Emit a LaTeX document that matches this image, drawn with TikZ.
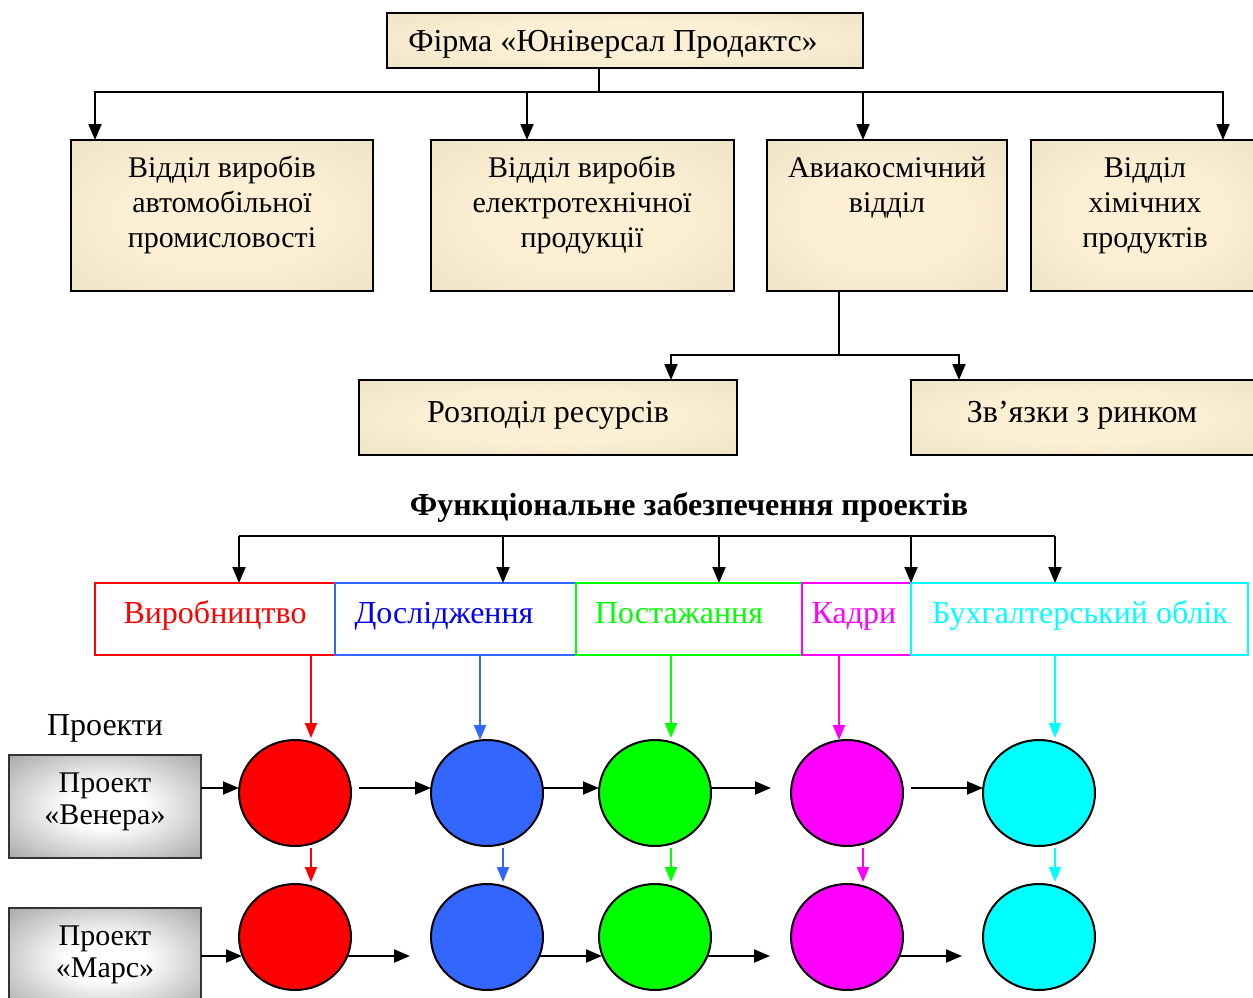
\documentclass[tikz,border=0pt]{standalone}
\usepackage{fontspec}
\setmainfont{Liberation Serif}
\usetikzlibrary{arrows.meta,shapes.geometric}
\definecolor{creamc}{RGB}{252,239,212}
\definecolor{midc}{RGB}{237,226,196}
\definecolor{tanc}{RGB}{203,188,145}
\definecolor{grayedge}{RGB}{120,120,120}
\definecolor{blueline}{RGB}{51,102,255}
\definecolor{bluetext}{RGB}{0,0,240}
\definecolor{grn}{RGB}{0,255,0}
\definecolor{mag}{RGB}{255,0,255}
\definecolor{cyn}{RGB}{0,255,255}
\pgfdeclareradialshading{beigesh}{\pgfpoint{0bp}{0bp}}{color(0bp)=(creamc); color(16bp)=(creamc); color(38bp)=(midc); color(50bp)=(tanc); color(100bp)=(tanc)}
\pgfdeclareradialshading{graysh}{\pgfpoint{0bp}{0bp}}{color(0bp)=(white); color(10bp)=(white); color(50bp)=(grayedge); color(100bp)=(grayedge)}
\tikzset{
  big/.style={font=\fontsize{32}{36}\selectfont, inner sep=0pt, anchor=base},
  mid/.style={font=\fontsize{30}{35}\selectfont, inner sep=0pt, anchor=base},
  beigebox/.style={draw=black, line width=2pt, shading=beigesh, rectangle, inner sep=0pt, outer sep=0pt},
  graybox/.style={draw=black!80, line width=2pt, shading=graysh, rectangle, inner sep=0pt, outer sep=0pt},
  fbox/.style={draw=#1, line width=2pt, rectangle, inner sep=0pt, outer sep=0pt, minimum height=72pt},
  circ/.style={ellipse, draw=black, line width=2pt, fill=#1, minimum width=112pt, minimum height=106pt, inner sep=0pt, outer sep=0pt},
  arr/.style={line width=2pt, -{Triangle[width=13pt,length=16pt]}},
  carr/.style={line width=2pt, draw=#1, -{Triangle[width=12pt,length=15pt]}},
  ln/.style={line width=2pt}
}
\begin{document}
\begin{tikzpicture}[x=1pt,y=-1pt]
\useasboundingbox (0,0) rectangle (1253,998);
% top level
\node[beigebox, minimum width=476pt, minimum height=55pt] (top) at (625,40.5) {};
\node[big] (topt) at (613,52) {Фірма «Юніверсал Продактс»};
\node[beigebox, minimum width=302pt, minimum height=151pt] (d1) at (222,215.5) {};
\node[beigebox, minimum width=303pt, minimum height=151pt] (d2) at (582.5,215.5) {};
\node[beigebox, minimum width=240pt, minimum height=151pt] (d3) at (887,215.5) {};
\node[beigebox, minimum width=228pt, minimum height=151pt] (d4) at (1145,215.5) {};
\node[mid] (d1a) at (222,177) {Відділ виробів};
\node[mid] (d1b) at (222,212) {автомобільної};
\node[mid] (d1c) at (222,247) {промисловості};
\node[mid] (d2a) at (582,177) {Відділ виробів};
\node[mid] (d2b) at (582,212) {електротехнічної};
\node[mid] (d2c) at (582,247) {продукції};
\node[mid] (d3a) at (887,177) {Авиакосмічний};
\node[mid] (d3b) at (887,212) {відділ};
\node[mid] (d4a) at (1145,177) {Відділ};
\node[mid] (d4b) at (1145,212) {хімічних};
\node[mid] (d4c) at (1145,247) {продуктів};
\node[beigebox, minimum width=378pt, minimum height=75pt] (r1) at (548,417.5) {};
\node[beigebox, minimum width=348pt, minimum height=75pt] (r2) at (1085,417.5) {};
\node[big] (r1t) at (548,422) {Розподіл ресурсів};
\node[big] (r2t) at (1082,422) {Зв’язки з ринком};
% top connectors
\coordinate (bus1) at (599,92);
\draw[ln] ([xshift=-26pt]top.south) -- (bus1);
\draw[ln] (bus1) -- (1223,92);
\draw[ln] (bus1) -- (95,92);
\draw[arr] (bus1) -| ([xshift=24pt]d1.north west);
\draw[arr] (bus1) -| ([xshift=96pt]d2.north west);
\draw[arr] (bus1) -| ([xshift=96pt]d3.north west);
\draw[arr] (bus1) -| ([xshift=192pt]d4.north west);
\coordinate (bus2) at (839,355);
\draw[ln] ([xshift=-48pt]d3.south) -- (bus2);
\draw[arr] (bus2) -| ([xshift=312pt]r1.north west);
\draw[arr] (bus2) -| ([xshift=48pt]r2.north west);
% functional
\node[big, font=\fontsize{32}{36}\selectfont\bfseries] (title) at (689,515) {Функціональне забезпечення проектів};
\node[fbox=red, minimum width=240pt] (f1) at (215,619) {};
\node[fbox=blueline, minimum width=241pt] (f2) at (455.5,619) {};
\node[fbox=grn, minimum width=226pt] (f3) at (689,619) {};
\node[fbox=mag, minimum width=109pt] (f4) at (856.5,619) {};
\node[fbox=cyn, minimum width=337pt] (f5) at (1079.5,619) {};
\node[big, text=red] (f1t) at (215,623) {Виробництво};
\node[big, text=bluetext] (f2t) at (444,623) {Дослідження};
\node[big, text=grn] (f3t) at (679,623) {Постажання};
\node[big, text=mag] (f4t) at (854,623) {Кадри};
\node[big, text=cyn] (f5t) at (1080,623) {Бухгалтерський облік};
\coordinate (bL) at (239,536);
\coordinate (bR) at (1055,536);
\draw[ln] (bL) -- (bR);
\draw[arr] (bL) -- (bL |- f1.north);
\draw[arr] (503,536) -- ([xshift=168pt]f2.north west);
\draw[arr] (719,536) -- ([xshift=143pt]f3.north west);
\draw[arr] (911,536) -- (f5.north west);
\draw[arr] (bR) -- (bR |- f5.north);
% projects
\node[big] (proj) at (105,735) {Проекти};
\node[graybox, minimum width=192pt, minimum height=103pt] (ven) at (105,806.5) {};
\node[graybox, minimum width=192pt, minimum height=103pt] (mars) at (105,959.5) {};
\node[mid] (venA) at (105,792) {Проект};
\node[mid] (venB) at (105,824) {«Венера»};
\node[mid] (marsA) at (105,945) {Проект};
\node[mid] (marsB) at (105,977) {«Марс»};
% circles
\node[circ=red] (c11) at (295,793) {};
\node[circ=blueline] (c12) at (487,793) {};
\node[circ=grn] (c13) at (655,793) {};
\node[circ=mag] (c14) at (847,793) {};
\node[circ=cyn] (c15) at (1039,793) {};
\node[circ=red] (c21) at (295,937) {};
\node[circ=blueline] (c22) at (487,937) {};
\node[circ=grn] (c23) at (655,937) {};
\node[circ=mag] (c24) at (847,937) {};
\node[circ=cyn] (c25) at (1039,937) {};
% vertical colored arrows
\coordinate (xr) at (311,0);
\coordinate (xb1) at (480,0);
\coordinate (xb2) at (503,0);
\coordinate (xg) at (671,0);
\coordinate (xm1) at (839,0);
\coordinate (xm2) at (863,0);
\coordinate (xc) at (1055,0);
\draw[carr=red] (f1.south -| xr) -- ([yshift=2pt]c11.north -| xr);
\draw[carr=blueline] (f2.south -| xb1) -- (c12.north -| xb1);
\draw[carr=grn] (f3.south -| xg) -- ([yshift=2pt]c13.north -| xg);
\draw[carr=mag] (f4.south -| xm1) -- (c14.north -| xm1);
\draw[carr=cyn] (f5.south -| xc) -- ([yshift=2pt]c15.north -| xc);
\draw[carr=red] ([yshift=-2pt]c11.south -| xr) -- ([yshift=2pt]c21.north -| xr);
\draw[carr=blueline] ([yshift=-2pt]c12.south -| xb2) -- ([yshift=2pt]c22.north -| xb2);
\draw[carr=grn] ([yshift=-2pt]c13.south -| xg) -- ([yshift=2pt]c23.north -| xg);
\draw[carr=mag] ([yshift=-2pt]c14.south -| xm2) -- ([yshift=2pt]c24.north -| xm2);
\draw[carr=cyn] ([yshift=-2pt]c15.south -| xc) -- ([yshift=2pt]c25.north -| xc);
% horizontal arrows
\coordinate (yA) at (0,788);
\coordinate (yB) at (0,956);
\draw[arr] (ven.east |- yA) -- (c11.west |- yA);
\draw[arr] ([xshift=8pt]c11.east |- yA) -- (c12.west |- yA);
\draw[arr] (c12.east |- yA) -- (c13.west |- yA);
\draw[arr] (c13.east |- yA) -- ([xshift=-20pt]c14.west |- yA);
\draw[arr] ([xshift=8pt]c14.east |- yA) -- (c15.west |- yA);
\draw[arr] (mars.east |- yB) -- ([xshift=3pt]c21.west |- yB);
\draw[arr] ([xshift=-4pt]c21.east |- yB) -- ([xshift=-21pt]c22.west |- yB);
\draw[arr] ([xshift=-4pt]c22.east |- yB) -- ([xshift=3pt]c23.west |- yB);
\draw[arr] ([xshift=-4pt]c23.east |- yB) -- ([xshift=-21pt]c24.west |- yB);
\draw[arr] ([xshift=-4pt]c24.east |- yB) -- ([xshift=-21pt]c25.west |- yB);
\end{tikzpicture}
\end{document}
